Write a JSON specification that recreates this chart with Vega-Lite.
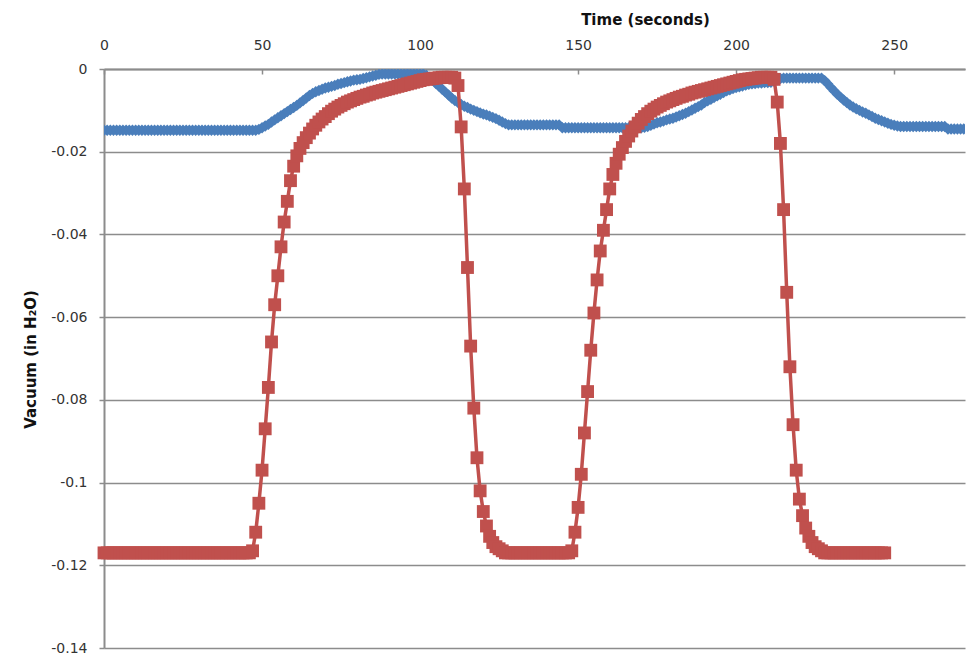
{
"$schema":"https://vega.github.io/schema/vega-lite/v6.json",
"width":861,"height":579,
"autosize":{"type":"none"},
"padding":{"left":104,"top":69,"right":7,"bottom":10},
"background":"white",
"config":{"view":{"stroke":null},"font":"DejaVu Sans"},
"datasets":{
"blue":[
{"t":0,"v":-0.0148},{"t":1,"v":-0.0148},{"t":2,"v":-0.0148},{"t":3,"v":-0.0148},{"t":4,"v":-0.0148},{"t":5,"v":-0.0148},{"t":6,"v":-0.0148},{"t":7,"v":-0.0148},{"t":8,"v":-0.0148},{"t":9,"v":-0.0148},
{"t":10,"v":-0.0148},{"t":11,"v":-0.0148},{"t":12,"v":-0.0148},{"t":13,"v":-0.0148},{"t":14,"v":-0.0148},{"t":15,"v":-0.0148},{"t":16,"v":-0.0148},{"t":17,"v":-0.0148},{"t":18,"v":-0.0148},{"t":19,"v":-0.0148},
{"t":20,"v":-0.0148},{"t":21,"v":-0.0148},{"t":22,"v":-0.0148},{"t":23,"v":-0.0148},{"t":24,"v":-0.0148},{"t":25,"v":-0.0148},{"t":26,"v":-0.0148},{"t":27,"v":-0.0148},{"t":28,"v":-0.0148},{"t":29,"v":-0.0148},
{"t":30,"v":-0.0148},{"t":31,"v":-0.0148},{"t":32,"v":-0.0148},{"t":33,"v":-0.0148},{"t":34,"v":-0.0148},{"t":35,"v":-0.0148},{"t":36,"v":-0.0148},{"t":37,"v":-0.0148},{"t":38,"v":-0.0148},{"t":39,"v":-0.0148},
{"t":40,"v":-0.0148},{"t":41,"v":-0.0148},{"t":42,"v":-0.0148},{"t":43,"v":-0.0148},{"t":44,"v":-0.0148},{"t":45,"v":-0.0148},{"t":46,"v":-0.0148},{"t":47,"v":-0.0148},{"t":48,"v":-0.0148},{"t":49,"v":-0.0146},
{"t":50,"v":-0.0142},{"t":51,"v":-0.0138},{"t":52,"v":-0.0134},{"t":53,"v":-0.0128},{"t":54,"v":-0.0123},{"t":55,"v":-0.0118},{"t":56,"v":-0.0113},{"t":57,"v":-0.0108},{"t":58,"v":-0.0103},{"t":59,"v":-0.0098},
{"t":60,"v":-0.0093},{"t":61,"v":-0.0088},{"t":62,"v":-0.0082},{"t":63,"v":-0.0076},{"t":64,"v":-0.0070},{"t":65,"v":-0.0064},{"t":66,"v":-0.0059},{"t":67,"v":-0.0055},{"t":68,"v":-0.0052},{"t":69,"v":-0.0049},
{"t":70,"v":-0.0046},{"t":71,"v":-0.0044},{"t":72,"v":-0.0042},{"t":73,"v":-0.0040},{"t":74,"v":-0.0037},{"t":75,"v":-0.0035},{"t":76,"v":-0.0033},{"t":77,"v":-0.0031},{"t":78,"v":-0.0029},{"t":79,"v":-0.0027},
{"t":80,"v":-0.0026},{"t":81,"v":-0.0025},{"t":82,"v":-0.0023},{"t":83,"v":-0.0021},{"t":84,"v":-0.0019},{"t":85,"v":-0.0017},{"t":86,"v":-0.0015},{"t":87,"v":-0.0013},{"t":88,"v":-0.0012},{"t":89,"v":-0.0012},
{"t":90,"v":-0.0012},{"t":91,"v":-0.0012},{"t":92,"v":-0.0012},{"t":93,"v":-0.0012},{"t":94,"v":-0.0012},{"t":95,"v":-0.0012},{"t":96,"v":-0.0012},{"t":97,"v":-0.0012},{"t":98,"v":-0.0012},{"t":99,"v":-0.0012},
{"t":100,"v":-0.0012},{"t":101,"v":-0.0012},{"t":102,"v":-0.0015},{"t":103,"v":-0.0020},{"t":104,"v":-0.0027},{"t":105,"v":-0.0035},{"t":106,"v":-0.0042},{"t":107,"v":-0.0049},{"t":108,"v":-0.0056},{"t":109,"v":-0.0063},
{"t":110,"v":-0.0070},{"t":111,"v":-0.0076},{"t":112,"v":-0.0081},{"t":113,"v":-0.0086},{"t":114,"v":-0.0090},{"t":115,"v":-0.0093},{"t":116,"v":-0.0097},{"t":117,"v":-0.0100},{"t":118,"v":-0.0103},{"t":119,"v":-0.0106},
{"t":120,"v":-0.0109},{"t":121,"v":-0.0111},{"t":122,"v":-0.0114},{"t":123,"v":-0.0117},{"t":124,"v":-0.0120},{"t":125,"v":-0.0124},{"t":126,"v":-0.0128},{"t":127,"v":-0.0132},{"t":128,"v":-0.0135},{"t":129,"v":-0.0135},
{"t":130,"v":-0.0135},{"t":131,"v":-0.0135},{"t":132,"v":-0.0135},{"t":133,"v":-0.0135},{"t":134,"v":-0.0135},{"t":135,"v":-0.0135},{"t":136,"v":-0.0135},{"t":137,"v":-0.0135},{"t":138,"v":-0.0135},{"t":139,"v":-0.0135},
{"t":140,"v":-0.0135},{"t":141,"v":-0.0135},{"t":142,"v":-0.0135},{"t":143,"v":-0.0135},{"t":144,"v":-0.0135},{"t":145,"v":-0.0142},{"t":146,"v":-0.0142},{"t":147,"v":-0.0142},{"t":148,"v":-0.0142},{"t":149,"v":-0.0142},
{"t":150,"v":-0.0142},{"t":151,"v":-0.0142},{"t":152,"v":-0.0142},{"t":153,"v":-0.0142},{"t":154,"v":-0.0142},{"t":155,"v":-0.0142},{"t":156,"v":-0.0142},{"t":157,"v":-0.0142},{"t":158,"v":-0.0142},{"t":159,"v":-0.0142},
{"t":160,"v":-0.0142},{"t":161,"v":-0.0142},{"t":162,"v":-0.0142},{"t":163,"v":-0.0142},{"t":164,"v":-0.0142},{"t":165,"v":-0.0142},{"t":166,"v":-0.0142},{"t":167,"v":-0.0142},{"t":168,"v":-0.0142},{"t":169,"v":-0.0142},
{"t":170,"v":-0.0142},{"t":171,"v":-0.0141},{"t":172,"v":-0.0139},{"t":173,"v":-0.0136},{"t":174,"v":-0.0133},{"t":175,"v":-0.0130},{"t":176,"v":-0.0128},{"t":177,"v":-0.0126},{"t":178,"v":-0.0123},{"t":179,"v":-0.0121},
{"t":180,"v":-0.0119},{"t":181,"v":-0.0116},{"t":182,"v":-0.0113},{"t":183,"v":-0.0110},{"t":184,"v":-0.0107},{"t":185,"v":-0.0103},{"t":186,"v":-0.0099},{"t":187,"v":-0.0095},{"t":188,"v":-0.0091},{"t":189,"v":-0.0087},
{"t":190,"v":-0.0081},{"t":191,"v":-0.0077},{"t":192,"v":-0.0073},{"t":193,"v":-0.0069},{"t":194,"v":-0.0065},{"t":195,"v":-0.0061},{"t":196,"v":-0.0057},{"t":197,"v":-0.0053},{"t":198,"v":-0.0050},{"t":199,"v":-0.0047},
{"t":200,"v":-0.0045},{"t":201,"v":-0.0043},{"t":202,"v":-0.0041},{"t":203,"v":-0.0039},{"t":204,"v":-0.0037},{"t":205,"v":-0.0036},{"t":206,"v":-0.0035},{"t":207,"v":-0.0034},{"t":208,"v":-0.0034},{"t":209,"v":-0.0033},
{"t":210,"v":-0.0033},{"t":211,"v":-0.0032},{"t":212,"v":-0.0030},{"t":213,"v":-0.0026},{"t":214,"v":-0.0023},{"t":215,"v":-0.0022},{"t":216,"v":-0.0022},{"t":217,"v":-0.0022},{"t":218,"v":-0.0022},{"t":219,"v":-0.0022},
{"t":220,"v":-0.0022},{"t":221,"v":-0.0022},{"t":222,"v":-0.0022},{"t":223,"v":-0.0022},{"t":224,"v":-0.0022},{"t":225,"v":-0.0022},{"t":226,"v":-0.0022},{"t":227,"v":-0.0022},{"t":228,"v":-0.0028},{"t":229,"v":-0.0036},
{"t":230,"v":-0.0045},{"t":231,"v":-0.0053},{"t":232,"v":-0.0061},{"t":233,"v":-0.0068},{"t":234,"v":-0.0075},{"t":235,"v":-0.0081},{"t":236,"v":-0.0087},{"t":237,"v":-0.0092},{"t":238,"v":-0.0096},{"t":239,"v":-0.0100},
{"t":240,"v":-0.0104},{"t":241,"v":-0.0107},{"t":242,"v":-0.0111},{"t":243,"v":-0.0115},{"t":244,"v":-0.0119},{"t":245,"v":-0.0122},{"t":246,"v":-0.0125},{"t":247,"v":-0.0128},{"t":248,"v":-0.0131},{"t":249,"v":-0.0134},
{"t":250,"v":-0.0136},{"t":251,"v":-0.0138},{"t":252,"v":-0.0139},{"t":253,"v":-0.0139},{"t":254,"v":-0.0139},{"t":255,"v":-0.0139},{"t":256,"v":-0.0139},{"t":257,"v":-0.0139},{"t":258,"v":-0.0139},{"t":259,"v":-0.0139},
{"t":260,"v":-0.0139},{"t":261,"v":-0.0139},{"t":262,"v":-0.0139},{"t":263,"v":-0.0139},{"t":264,"v":-0.0139},{"t":265,"v":-0.0139},{"t":266,"v":-0.0139},{"t":267,"v":-0.0145},{"t":268,"v":-0.0145},{"t":269,"v":-0.0145},
{"t":270,"v":-0.0145},{"t":271,"v":-0.0145},{"t":272,"v":-0.0145},{"t":273,"v":-0.0145}
],
"red":[
{"t":0,"v":-0.117},{"t":1,"v":-0.117},{"t":2,"v":-0.117},{"t":3,"v":-0.117},{"t":4,"v":-0.117},{"t":5,"v":-0.117},{"t":6,"v":-0.117},{"t":7,"v":-0.117},{"t":8,"v":-0.117},{"t":9,"v":-0.117},
{"t":10,"v":-0.117},{"t":11,"v":-0.117},{"t":12,"v":-0.117},{"t":13,"v":-0.117},{"t":14,"v":-0.117},{"t":15,"v":-0.117},{"t":16,"v":-0.117},{"t":17,"v":-0.117},{"t":18,"v":-0.117},{"t":19,"v":-0.117},
{"t":20,"v":-0.117},{"t":21,"v":-0.117},{"t":22,"v":-0.117},{"t":23,"v":-0.117},{"t":24,"v":-0.117},{"t":25,"v":-0.117},{"t":26,"v":-0.117},{"t":27,"v":-0.117},{"t":28,"v":-0.117},{"t":29,"v":-0.117},
{"t":30,"v":-0.117},{"t":31,"v":-0.117},{"t":32,"v":-0.117},{"t":33,"v":-0.117},{"t":34,"v":-0.117},{"t":35,"v":-0.117},{"t":36,"v":-0.117},{"t":37,"v":-0.117},{"t":38,"v":-0.117},{"t":39,"v":-0.117},
{"t":40,"v":-0.117},{"t":41,"v":-0.117},{"t":42,"v":-0.117},{"t":43,"v":-0.117},{"t":44,"v":-0.117},{"t":45,"v":-0.117},{"t":46,"v":-0.117},{"t":47,"v":-0.1165},{"t":48,"v":-0.112},{"t":49,"v":-0.105},
{"t":50,"v":-0.097},{"t":51,"v":-0.087},{"t":52,"v":-0.077},{"t":53,"v":-0.066},{"t":54,"v":-0.057},{"t":55,"v":-0.050},{"t":56,"v":-0.043},{"t":57,"v":-0.037},{"t":58,"v":-0.032},{"t":59,"v":-0.027},
{"t":60,"v":-0.0235},{"t":61,"v":-0.0210},{"t":62,"v":-0.0192},{"t":63,"v":-0.0178},{"t":64,"v":-0.0166},{"t":65,"v":-0.0155},{"t":66,"v":-0.0145},{"t":67,"v":-0.0136},{"t":68,"v":-0.0128},{"t":69,"v":-0.0121},
{"t":70,"v":-0.0115},{"t":71,"v":-0.0108},{"t":72,"v":-0.0102},{"t":73,"v":-0.0097},{"t":74,"v":-0.0092},{"t":75,"v":-0.0088},{"t":76,"v":-0.0084},{"t":77,"v":-0.0080},{"t":78,"v":-0.0077},{"t":79,"v":-0.0074},
{"t":80,"v":-0.0071},{"t":81,"v":-0.0068},{"t":82,"v":-0.0066},{"t":83,"v":-0.0063},{"t":84,"v":-0.0061},{"t":85,"v":-0.0058},{"t":86,"v":-0.0056},{"t":87,"v":-0.0054},{"t":88,"v":-0.0052},{"t":89,"v":-0.0050},
{"t":90,"v":-0.0048},{"t":91,"v":-0.0046},{"t":92,"v":-0.0044},{"t":93,"v":-0.0042},{"t":94,"v":-0.0040},{"t":95,"v":-0.0038},{"t":96,"v":-0.0036},{"t":97,"v":-0.0034},{"t":98,"v":-0.0032},{"t":99,"v":-0.0030},
{"t":100,"v":-0.0028},{"t":101,"v":-0.0026},{"t":102,"v":-0.0025},{"t":103,"v":-0.0024},{"t":104,"v":-0.0023},{"t":105,"v":-0.0022},{"t":106,"v":-0.0021},{"t":107,"v":-0.0020},{"t":108,"v":-0.0020},{"t":109,"v":-0.0020},
{"t":110,"v":-0.0020},{"t":111,"v":-0.0022},{"t":112,"v":-0.0040},{"t":113,"v":-0.014},{"t":114,"v":-0.029},{"t":115,"v":-0.048},{"t":116,"v":-0.067},{"t":117,"v":-0.082},{"t":118,"v":-0.094},{"t":119,"v":-0.102},
{"t":120,"v":-0.107},{"t":121,"v":-0.1105},{"t":122,"v":-0.113},{"t":123,"v":-0.1145},{"t":124,"v":-0.1155},{"t":125,"v":-0.116},{"t":126,"v":-0.1165},{"t":127,"v":-0.117},{"t":128,"v":-0.117},{"t":129,"v":-0.117},
{"t":130,"v":-0.117},{"t":131,"v":-0.117},{"t":132,"v":-0.117},{"t":133,"v":-0.117},{"t":134,"v":-0.117},{"t":135,"v":-0.117},{"t":136,"v":-0.117},{"t":137,"v":-0.117},{"t":138,"v":-0.117},{"t":139,"v":-0.117},
{"t":140,"v":-0.117},{"t":141,"v":-0.117},{"t":142,"v":-0.117},{"t":143,"v":-0.117},{"t":144,"v":-0.117},{"t":145,"v":-0.117},{"t":146,"v":-0.117},{"t":147,"v":-0.117},{"t":148,"v":-0.1165},{"t":149,"v":-0.112},
{"t":150,"v":-0.106},{"t":151,"v":-0.098},{"t":152,"v":-0.088},{"t":153,"v":-0.078},{"t":154,"v":-0.068},{"t":155,"v":-0.059},{"t":156,"v":-0.051},{"t":157,"v":-0.044},{"t":158,"v":-0.039},{"t":159,"v":-0.034},
{"t":160,"v":-0.029},{"t":161,"v":-0.0255},{"t":162,"v":-0.0228},{"t":163,"v":-0.0206},{"t":164,"v":-0.0190},{"t":165,"v":-0.0175},{"t":166,"v":-0.0162},{"t":167,"v":-0.0150},{"t":168,"v":-0.0140},{"t":169,"v":-0.0131},
{"t":170,"v":-0.0122},{"t":171,"v":-0.0115},{"t":172,"v":-0.0108},{"t":173,"v":-0.0102},{"t":174,"v":-0.0097},{"t":175,"v":-0.0092},{"t":176,"v":-0.0088},{"t":177,"v":-0.0084},{"t":178,"v":-0.0080},{"t":179,"v":-0.0077},
{"t":180,"v":-0.0074},{"t":181,"v":-0.0071},{"t":182,"v":-0.0068},{"t":183,"v":-0.0066},{"t":184,"v":-0.0063},{"t":185,"v":-0.0061},{"t":186,"v":-0.0058},{"t":187,"v":-0.0056},{"t":188,"v":-0.0054},{"t":189,"v":-0.0052},
{"t":190,"v":-0.0050},{"t":191,"v":-0.0048},{"t":192,"v":-0.0046},{"t":193,"v":-0.0044},{"t":194,"v":-0.0042},{"t":195,"v":-0.0040},{"t":196,"v":-0.0038},{"t":197,"v":-0.0036},{"t":198,"v":-0.0034},{"t":199,"v":-0.0032},
{"t":200,"v":-0.0030},{"t":201,"v":-0.0028},{"t":202,"v":-0.0026},{"t":203,"v":-0.0025},{"t":204,"v":-0.0024},{"t":205,"v":-0.0023},{"t":206,"v":-0.0022},{"t":207,"v":-0.0021},{"t":208,"v":-0.0020},{"t":209,"v":-0.0020},
{"t":210,"v":-0.0020},{"t":211,"v":-0.0020},{"t":212,"v":-0.0025},{"t":213,"v":-0.008},{"t":214,"v":-0.018},{"t":215,"v":-0.034},{"t":216,"v":-0.054},{"t":217,"v":-0.072},{"t":218,"v":-0.086},{"t":219,"v":-0.097},
{"t":220,"v":-0.104},{"t":221,"v":-0.108},{"t":222,"v":-0.111},{"t":223,"v":-0.113},{"t":224,"v":-0.1145},{"t":225,"v":-0.1155},{"t":226,"v":-0.116},{"t":227,"v":-0.1165},{"t":228,"v":-0.117},{"t":229,"v":-0.117},
{"t":230,"v":-0.117},{"t":231,"v":-0.117},{"t":232,"v":-0.117},{"t":233,"v":-0.117},{"t":234,"v":-0.117},{"t":235,"v":-0.117},{"t":236,"v":-0.117},{"t":237,"v":-0.117},{"t":238,"v":-0.117},{"t":239,"v":-0.117},
{"t":240,"v":-0.117},{"t":241,"v":-0.117},{"t":242,"v":-0.117},{"t":243,"v":-0.117},{"t":244,"v":-0.117},{"t":245,"v":-0.117},{"t":246,"v":-0.117},{"t":247,"v":-0.117}
]
},
"encoding":{
"x":{"field":"t","type":"quantitative","scale":{"domain":[0,272.4],"nice":false,"zero":false},
"axis":{"orient":"top","values":[0,50,100,150,200,250],"title":"Time (seconds)","grid":false,"labelFlush":false,
"domainColor":"#8c8c8c","domainWidth":2,"tickColor":"#8c8c8c","tickSize":-5,"tickWidth":1.5,"labelPadding":22,
"labelFont":"DejaVu Sans","labelFontSize":14,"labelColor":"#333333",
"titleFont":"DejaVu Sans","titleFontSize":15,"titleFontWeight":"bold","titleColor":"#111111","titleX":541,"titleY":-45,"titleAlign":"center","titleBaseline":"alphabetic"}},
"y":{"field":"v","type":"quantitative","scale":{"domain":[-0.14,0],"nice":false,"zero":false},
"axis":{"values":[0,-0.02,-0.04,-0.06,-0.08,-0.1,-0.12,-0.14],"title":"Vacuum (in H₂O)","grid":true,"gridColor":"#8c8c8c","gridWidth":1.5,
"domainColor":"#8c8c8c","domainWidth":2,"tickColor":"#8c8c8c","tickSize":5,"tickWidth":1.5,"labelPadding":12,
"labelFont":"DejaVu Sans","labelFontSize":14,"labelColor":"#333333",
"labelExpr":"replace(format(datum.value, '~g'), '\u2212', '-')",
"titleFont":"DejaVu Sans","titleFontSize":15,"titleFontWeight":"bold","titleColor":"#111111","titleX":-74,"titleY":290,"titleAngle":270,"titleAlign":"center","titleBaseline":"middle"}}
},
"layer":[
{"data":{"name":"blue"},"mark":{"type":"line","color":"#4A7EBB","strokeWidth":2,"clip":true}},
{"data":{"name":"blue"},"mark":{"type":"point","shape":"diamond","filled":true,"size":130,"color":"#4A7EBB","opacity":1,"clip":true}},
{"data":{"name":"red"},"mark":{"type":"line","color":"#C0504D","strokeWidth":3.5}},
{"data":{"name":"red"},"mark":{"type":"square","size":165,"color":"#C0504D","opacity":1}}
]
}
